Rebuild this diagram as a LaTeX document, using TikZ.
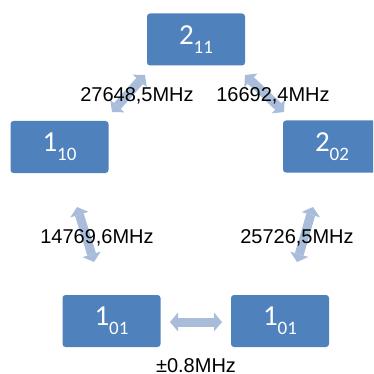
\documentclass[tikz,border=0pt]{standalone}
\usepackage{fontspec}
\setmainfont{Liberation Sans}
\newfontfamily\boxfont{Carlito}
\usetikzlibrary{arrows.meta}
\definecolor{boxblue}{HTML}{4F81BD}
\definecolor{arrowblue}{HTML}{A9BDDA}
\newcommand\lvsub[1]{\raisebox{-9pt}{\fontsize{19}{19}\selectfont #1}}
\begin{document}
\begin{tikzpicture}[x=1pt,y=-1pt,
  state/.style={fill=boxblue, rounded corners=3pt, minimum width=98pt, minimum height=52pt,
    inner sep=0pt, text=white, font=\boxfont\fontsize{29}{29}\selectfont},
  freq/.style={font=\fontsize{20}{20}\selectfont, anchor=base, inner sep=0pt},
  tipshape/.tip={Triangle[width=19pt,length=8pt,line width=0pt]},
  dbl/.style={draw=arrowblue, line width=9pt, tipshape-tipshape}]
\clip (0,0) rectangle (373,374);
% states
\node[state] (s211) at (196,39.5) {2\lvsub{11}};
\node[state] (s110) at (59.5,147) {1\lvsub{10}};
\node[state] (s202) at (332,146.5) {2\lvsub{02}};
\node[state] (s01a) at (111.5,321) {1\lvsub{01}};
\node[state] (s01b) at (280,321) {1\lvsub{01}};
% arrow end points
\coordinate (tl1) at (112,112);
\coordinate (tl2) at (145,75);
\coordinate (tr1) at (245,75);
\coordinate (tr2) at (284,112);
\coordinate (ml1) at (77,207);
\coordinate (ml2) at (94,262);
\coordinate (mr1) at (313,207);
\coordinate (mr2) at (297,262);
\coordinate (h1) at (170,322);
\coordinate (h2) at (222,322);
\draw[dbl] (tl1) -- (tl2);
\draw[dbl] (tr1) -- (tr2);
\draw[dbl] (ml1) -- (ml2);
\draw[dbl] (mr1) -- (mr2);
\draw[dbl] (h1) -- (h2);
% labels
\node[freq] (f1) at (137,101.5) {27648,5MHz};
\node[freq] (f2) at (273,101.5) {16692,4MHz};
\node[freq] (f3) at (97,243) {14769,6MHz};
\node[freq] (f4) at (297,243) {25726,5MHz};
\node[freq] (f5) at (196,372.5) {±0.8MHz};
\end{tikzpicture}
\end{document}
